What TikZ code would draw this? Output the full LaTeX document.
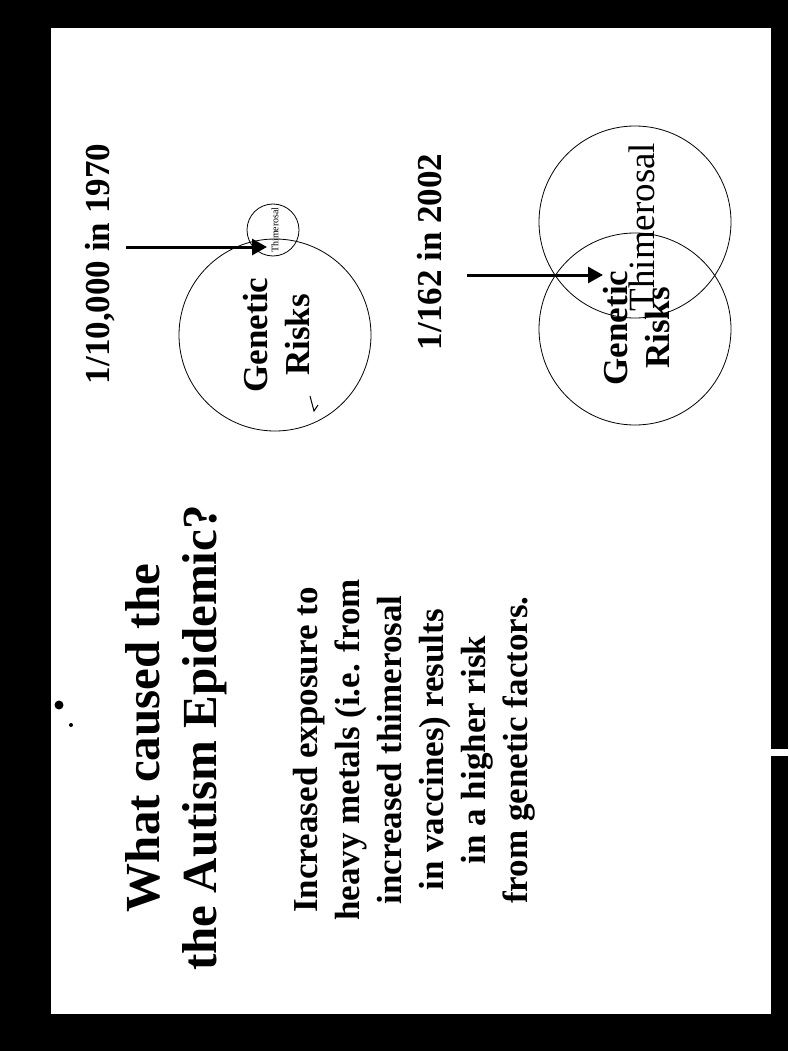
\documentclass[tikz,border=0pt]{standalone}
\usepackage{fontspec}
\setmainfont{Liberation Serif}
\usetikzlibrary{arrows.meta}

\begin{document}
\begin{tikzpicture}[x=1pt,y=-1pt,
  ttl/.style={rotate=90, align=center, inner sep=0pt, font=\fontsize{49}{57}\selectfont\bfseries},
  body/.style={rotate=90, align=center, inner sep=0pt, font=\fontsize{35}{42}\selectfont\bfseries},
  lab/.style={rotate=90, inner sep=0pt, font=\fontsize{35}{42}\selectfont\bfseries},
  thim/.style={rotate=90, inner sep=0pt},
  ring/.style={draw, circle, line width=0.8pt, inner sep=0pt},
  arr/.style={-{Triangle[length=15pt,width=16pt]}, line width=3pt}]
\useasboundingbox (0,0) rectangle (788,1051);
\fill[black] (0,0) rectangle (788,1051);
\fill[white] (51,28) rectangle (771,1014);
\fill[white] (771,749) rectangle (788,756);
\fill (59,705) circle (4.5); \fill (71,725) circle (2);
% 1970
\node[ring, minimum size=192pt] (G1) at (275,335) {};
\node[ring, minimum size=52pt]  (T1) at (273,230) {};
\node[thim, font=\fontsize{10}{12}\selectfont] (TL1) at (275,230) {Thimerosal};
\node[body] (GR1) at (277,335) {Genetic\\Risks};
\draw[line width=1pt] (310,396) -- (314,411) -- (318,405);
\node[lab] (Y1) at (100,264) {1/10,000 in 1970};
\coordinate (s1) at (126,247); \coordinate (e1) at (267,247);
\draw[arr] (s1) -- (e1);
% 2002
\node[ring, minimum size=192pt] (T2) at (635,222) {};
\node[ring, minimum size=192pt] (G2) at (635,329) {};
\node[thim, font=\fontsize{37}{44}\selectfont] (TL2) at (642,227) {Thimerosal};
\node[body] (GR2) at (637,328) {Genetic\\Risks};
\node[lab] (Y2) at (430,252) {1/162 in 2002};
\coordinate (s2) at (467,275); \coordinate (e2) at (603,275);
\draw[arr] (s2) -- (e2);
% text
\node[ttl] (TT) at (176,738) {What caused the\\the Autism Epidemic?};
\node[body] (BD) at (414,750) {Increased exposure to\\heavy metals (i.e. from\\increased thimerosal\\in vaccines) results\\in a higher risk\\from genetic factors.};
\end{tikzpicture}
\end{document}
